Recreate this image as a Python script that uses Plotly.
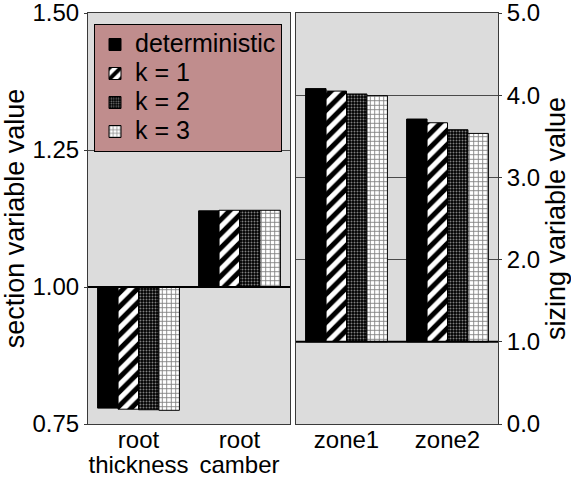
import numpy as np
import plotly.graph_objects as go

# ---- data -------------------------------------------------------------
section_vars = ["root<br>thickness", "root<br>camber"]
sizing_vars = ["zone1", "zone2"]
series_names = ["deterministic", "k = 1", "k = 2", "k = 3"]

# normalised section variables (left axis)
section_values = {
    "deterministic": [0.779, 1.139],
    "k = 1": [0.777, 1.140],
    "k = 2": [0.776, 1.140],
    "k = 3": [0.775, 1.140],
}
# normalised sizing variables (right axis)
sizing_values = {
    "deterministic": [4.08, 3.71],
    "k = 1": [4.05, 3.665],
    "k = 2": [4.015, 3.58],
    "k = 3": [3.995, 3.535],
}
BASE = 1.0  # bars grow from the nominal value

section_ticks = [0.75, 1.00, 1.25, 1.50]
sizing_ticks = [0.0, 1.0, 2.0, 3.0, 4.0, 5.0]

# ---- styling ----------------------------------------------------------
FONT = "Liberation Sans, Arial, Helvetica, sans-serif"
patterns = {
    "deterministic": dict(shape="", fgcolor="black", bgcolor="black"),
    "k = 1": dict(shape="/", fgcolor="black", bgcolor="white", size=10,
                  solidity=0.5, fgopacity=1),
    "k = 2": dict(shape=".", fgcolor="white", bgcolor="black", size=3, solidity=0.35),
    "k = 3": dict(shape="+", fgcolor="black", bgcolor="white", size=4.5, solidity=0.35),
}


def big(text, px):
    """Wrap every line of a label in a larger span (keeps tight line spacing)."""
    return "<br>".join(f'<span style="font-size:{px}px">{t}</span>'
                       for t in text.split("<br>"))


fig = go.Figure()
for name in series_names:
    pat = patterns[name]
    fill = "black" if name == "deterministic" else "white"
    label = big(name, 25)
    sec = np.array(section_values[name])
    siz = np.array(sizing_values[name])
    fig.add_trace(go.Bar(
        x=section_vars, y=sec - BASE, base=BASE, name=label,
        legendgroup=name, showlegend=True,
        marker=dict(color=fill, pattern=pat, line=dict(color="black", width=1)),
        xaxis="x", yaxis="y",
    ))
    fig.add_trace(go.Bar(
        x=sizing_vars, y=siz - BASE, base=BASE, name=label,
        legendgroup=name, showlegend=False,
        marker=dict(color=fill, pattern=pat, line=dict(color="black", width=1)),
        xaxis="x2", yaxis="y2",
    ))

# plot area geometry in pixels
W, H = 571, 481
L, R, T, B = 88, 73, 13, 57
pw = W - L - R
ph = H - T - B
split_l = (290 - L) / pw
split_r = (296 - L) / pw

LINE = "#3a3a3a"
frame = dict(showline=True, linecolor=LINE, linewidth=1, mirror=True,
             automargin=False, ticklabeloverflow="allow")


def xaxis(domain, anchor, cats):
    return dict(
        domain=domain, anchor=anchor, type="category", range=[-0.5, 1.5],
        tickvals=cats, ticktext=[big(c, 24) for c in cats],
        ticks="", showgrid=False,
        tickfont=dict(family=FONT, size=19, color="black"),
        **frame,
    )


def yaxis(anchor, side, ticks, fmt, title, standoff):
    return dict(
        anchor=anchor, side=side, range=[ticks[0], ticks[-1]],
        tickvals=ticks, tickformat=fmt,
        ticks="outside", ticklen=3, tickcolor=LINE,
        tickfont=dict(family=FONT, size=24, color="black"),
        showgrid=True, gridcolor="#4a4a4a", gridwidth=1, zeroline=False,
        title=dict(text=title, standoff=standoff,
                   font=dict(family=FONT, size=27, color="black")),
        **frame,
    )


fig.update_layout(
    width=W, height=H,
    margin=dict(l=L, r=R, t=T, b=B, pad=0, autoexpand=False),
    paper_bgcolor="white", plot_bgcolor="#dcdcdc",
    barmode="group", bargap=0.19, bargroupgap=0.0,
    font=dict(family=FONT, color="black"),
    showlegend=True,
    legend=dict(
        x=(94 - L) / pw, y=1 - (24 - T) / ph,
        xanchor="left", yanchor="top",
        bgcolor="#c08d8d", bordercolor="black", borderwidth=1,
        font=dict(family=FONT, size=20, color="black"),
        tracegroupgap=0,
    ),
    xaxis=xaxis([0, split_l], "y", section_vars),
    xaxis2=xaxis([split_r, 1], "y2", sizing_vars),
    yaxis=yaxis("x", "left", section_ticks, ".2f", "section variable value", 0),
    yaxis2=yaxis("x2", "right", sizing_ticks, ".1f", "sizing variable value", 10),
)

# heavier reference line at the nominal value on both panels
for xr, yr in (("x domain", "y"), ("x2 domain", "y2")):
    fig.add_shape(type="line", xref=xr, yref=yr, x0=0, x1=1, y0=BASE, y1=BASE,
                  line=dict(color="black", width=2), layer="above")

fig.write_html("out.html")
